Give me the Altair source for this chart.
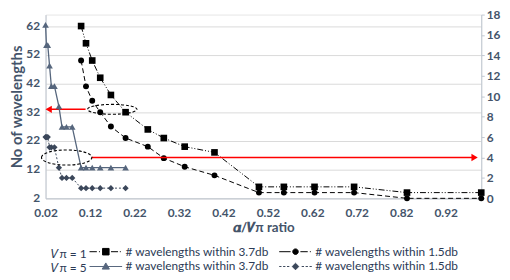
import altair as alt
import pandas as pd

# ---------------- data ----------------
ratio_v1 = [0.1, 0.111, 0.125, 0.143, 0.167, 0.2, 0.25, 0.286, 0.333, 0.4,
            0.5, 0.556, 0.625, 0.714, 0.833, 1.0]
v1_within_37 = [62, 56, 50, 44, 38, 32, 26, 23, 20, 18, 6, 6, 6, 6, 4, 4]
v1_within_15 = [50, 41, 36, 32, 27, 23, 20, 16, 13, 10, 4, 4, 4, 4, 2, 2]

ratio_v5 = [0.02, 0.022, 0.025, 0.029, 0.033, 0.04, 0.05, 0.057, 0.067, 0.08,
            0.1, 0.111, 0.125, 0.143, 0.167, 0.2]
v5_within_37 = [17, 15, 15, 13, 11, 11, 9, 7, 7, 7, 3, 3, 3, 3, 3, 3]
v5_within_15 = [6, 6, 6, 5, 5, 5, 3, 2, 2, 2, 1, 1, 1, 1, 1, 1]

x_tick_values = [0.02, 0.12, 0.22, 0.32, 0.42, 0.52, 0.62, 0.72, 0.82, 0.92]
left_tick_values = [2, 12, 22, 32, 42, 52, 62]
right_tick_values = [0, 2, 4, 6, 8, 10, 12, 14, 16, 18]

label_37 = "# wavelengths within 3.7db"
label_15 = "# wavelengths within 1.5db"
title_v1 = "𝑉π = 1"
title_v5 = "𝑉π = 5"
x_title = "𝜶/𝑽π ratio"
y_title = "No of wavelengths"

# annotation anchors, in data units
left_arrow_from = [0.11]
left_arrow_to = [0.03]
left_arrow_level = [33]
left_arrow_head = [0.027]
right_arrow_from = [0.124]
right_arrow_to = [0.98]
right_arrow_level = [4]
right_arrow_head = [0.985]
ellipse1_center = [0.17]
ellipse1_level = [33]
ellipse2_center = [0.0675]
ellipse2_level = [4]

# ---------------- styles ----------------
FONT = "Lato"
AXIS_TEXT = "#44546A"
LEGEND_TEXT = "#2B3A55"
GRID = "#D9D9D9"
DOMAIN = "#BFC6D0"
C_V1 = "#000000"
C_V5_37 = "#56667D"
C_V5_15 = "#3B475A"
RED = "#FF0000"

x_scale = alt.Scale(domain=[0.02, 1.0], nice=False, zero=False)
left_scale = alt.Scale(domain=[2, 66], nice=False, zero=False)
right_scale = alt.Scale(domain=[0, 18], nice=False, zero=False)

x_axis = alt.Axis(values=x_tick_values, format=".2f", title=x_title,
                  labelFont=FONT, labelFontSize=12, labelFontWeight="bold",
                  labelColor=AXIS_TEXT, labelPadding=9, ticks=False, grid=False,
                  domainColor=DOMAIN, titleFont=FONT, titleFontSize=13.5,
                  titleFontWeight="bold", titleColor=AXIS_TEXT, titlePadding=3,
                  labelFlush=False, labelOverlap=False)
left_axis = alt.Axis(orient="left", values=left_tick_values, title=y_title,
                     grid=True, gridColor=GRID, ticks=False, labelPadding=6,
                     labelOffset=-1,
                     labelFont=FONT, labelFontSize=12, labelFontWeight="bold",
                     labelColor=AXIS_TEXT, domainColor=DOMAIN, titleFont=FONT,
                     titleFontSize=15, titleFontWeight="bold", titleColor=AXIS_TEXT,
                     titlePadding=1, labelFlush=False)
right_axis = alt.Axis(orient="right", values=right_tick_values, title=None,
                      grid=False, ticks=True, tickSize=3, tickColor=DOMAIN,
                      labelPadding=2, labelFont=FONT, labelFontSize=12,
                      labelFontWeight="bold", labelColor=AXIS_TEXT,
                      domainColor=DOMAIN, labelFlush=False)

# legend glyphs (line pattern + marker), drawn in a [-1,1] box
G_SQUARE = ("M-1,0H-0.55M-0.42,0H-0.36M-0.2,-0.2H0.2V0.2H-0.2Z"
            "M0.32,0H0.75M0.86,0H0.92")
G_CIRCLE = ("M-1,0H-0.3M-0.17,0A0.17,0.17,0,1,0,0.17,0A0.17,0.17,0,1,0,-0.17,0Z"
            "M0.3,0H0.75M0.88,0H0.94")
G_TRIANGLE = "M-1,0H1M0,-0.22L0.22,0.16L-0.22,0.16Z"
G_DIAMOND = ("M-1,0H-0.86M-0.76,0H-0.62M-0.52,0H-0.38M0,-0.2L0.2,0L0,0.2L-0.2,0Z"
             "M0.38,0H0.52M0.62,0H0.76M0.86,0H1")

SYM = 1089  # 33 px wide glyph


def make_legend(color, glyph, lx, ly, title=None):
    kw = dict(orient="none", legendX=lx, legendY=ly, padding=0,
              symbolType=glyph, symbolSize=SYM, symbolFillColor=color,
              symbolStrokeColor=color, symbolStrokeWidth=1, symbolOpacity=1,
              labelOffset=3, labelLimit=400, labelFont=FONT, labelFontSize=12,
              labelColor=LEGEND_TEXT)
    if title is not None:
        kw.update(title=title, titleOrient="left", titleBaseline="line-top",
                  titleLineHeight=15, titlePadding=2, titleFont=FONT,
                  titleFontSize=12, titleFontWeight="normal", titleColor=LEGEND_TEXT)
    else:
        kw.update(title=None)
    return alt.Legend(**kw)


def series(xs, ys, label, color, y_scale, y_axis, line_kw, shape, size, legend):
    df = pd.DataFrame({"ratio": xs, "count": ys, "series": [label] * len(xs)})
    enc = dict(x=alt.X("ratio:Q", scale=x_scale, axis=x_axis),
               y=alt.Y("count:Q", scale=y_scale, axis=y_axis))
    line = alt.Chart(df).mark_line(color=color, **line_kw).encode(**enc)
    pts = alt.Chart(df).mark_point(filled=True, shape=shape, size=size, opacity=1).encode(
        color=alt.Color("series:N", scale=alt.Scale(domain=[label], range=[color]),
                        legend=legend),
        **enc)
    return [line, pts]


def arrow(x_from, x_to, level, head, head_shape, y_scale, y_axis):
    df = pd.DataFrame({"a": x_from, "b": x_to, "lvl": level})
    rule = alt.Chart(df).mark_rule(color=RED, strokeWidth=1.5).encode(
        x=alt.X("a:Q", scale=x_scale, axis=x_axis), x2="b:Q",
        y=alt.Y("lvl:Q", scale=y_scale, axis=y_axis))
    hdf = pd.DataFrame({"h": head, "lvl": level})
    tip = alt.Chart(hdf).mark_point(shape=head_shape, filled=True, color=RED,
                                    size=55, opacity=1).encode(
        x=alt.X("h:Q", scale=x_scale, axis=x_axis),
        y=alt.Y("lvl:Q", scale=y_scale, axis=y_axis))
    return [rule, tip]


def ellipse(cx, level, ratio, width, y_scale, y_axis):
    df = pd.DataFrame({"c": cx, "lvl": level})
    path = f"M-1,0A1,{ratio},0,1,1,1,0A1,{ratio},0,1,1,-1,0Z"
    return alt.Chart(df).mark_point(shape=path, filled=False, color="black",
                                    strokeWidth=1.1, strokeDash=[3, 2],
                                    size=width * width, opacity=1).encode(
        x=alt.X("c:Q", scale=x_scale, axis=x_axis),
        y=alt.Y("lvl:Q", scale=y_scale, axis=y_axis))


# legend positions relative to plot origin (plot at 46,13 on page)
row1_y, row2_y = 223, 238
col1_x, col2_x = 6, 236

layers_v1 = (
    series(ratio_v1, v1_within_37, label_37, C_V1, left_scale, left_axis,
           dict(strokeWidth=1, strokeDash=[6, 2, 1, 2, 1, 2]), "square", 45,
           make_legend(C_V1, G_SQUARE, col1_x, row1_y, title_v1))
    + series(ratio_v1, v1_within_15, label_15, C_V1, left_scale, left_axis,
             dict(strokeWidth=1, strokeDash=[5, 3]), "circle", 36,
             make_legend(C_V1, G_CIRCLE, col2_x, row1_y))
    + arrow(left_arrow_from, left_arrow_to, left_arrow_level, left_arrow_head,
            "triangle-left", left_scale, left_axis)
    + [ellipse(ellipse1_center, ellipse1_level, 0.2, 50, left_scale, left_axis)]
)

layers_v5 = (
    series(ratio_v5, v5_within_37, label_37, C_V5_37, right_scale, right_axis,
           dict(strokeWidth=1.3), "triangle-up", 45,
           make_legend(C_V5_37, G_TRIANGLE, col1_x, row2_y, title_v5))
    + series(ratio_v5, v5_within_15, label_15, C_V5_15, right_scale, right_axis,
             dict(strokeWidth=1, strokeDash=[2, 2]), "diamond", 40,
             make_legend(C_V5_15, G_DIAMOND, col2_x, row2_y))
    + arrow(right_arrow_from, right_arrow_to, right_arrow_level, right_arrow_head,
            "triangle-right", right_scale, right_axis)
    + [ellipse(ellipse2_center, ellipse2_level, 0.3, 51, right_scale, right_axis)]
)

left_part = alt.layer(*layers_v1).resolve_scale(color="independent")
right_part = alt.layer(*layers_v5).resolve_scale(color="independent")

chart = (
    alt.layer(left_part, right_part)
    .resolve_scale(y="independent", color="independent")
    .properties(width=441, height=186,
                padding={"left": 38, "top": 5, "right": 21, "bottom": 81},
                autosize=alt.AutoSizeParams(type="none"),
                background="white")
    .configure_view(stroke="#E6E6E6", strokeWidth=1)
)

chart.save("out.html", embed_options={"renderer": "svg", "actions": False})
